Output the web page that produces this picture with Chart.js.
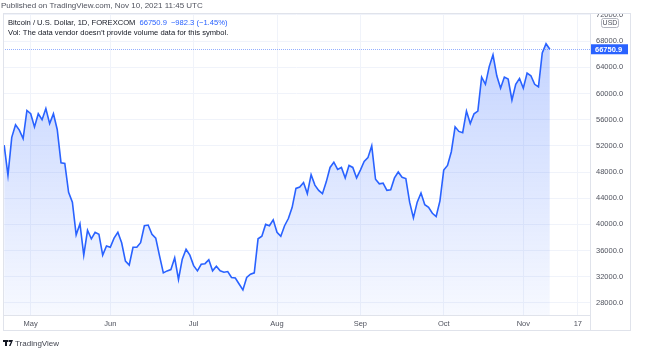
<!DOCTYPE html>
<html>
<head>
<meta charset="utf-8">
<script src="https://cdn.jsdelivr.net/npm/chart.js@4.4.1/dist/chart.umd.min.js"></script>
<style>
  html, body { margin: 0; padding: 0; background: #ffffff; }
  #wrap { position: relative; width: 650px; height: 359px; }
</style>
</head>
<body>
<div id="wrap"><canvas id="c" width="650" height="359"></canvas></div>
<script>
// Daily (weekday) closes, first bar = Apr 22 2021, last bar = Nov 10 2021
const closes = [
  52100, 47500, 53300, 55200, 54400, 53100, 57400,
  56900, 54900, 56900, 56000, 57700, 55400, 56900, 54500, 49400, 49300,
  44900, 43400, 38400, 40100, 35300, 39100, 37800, 38800, 38500, 35300, 36700,
  36500, 37900, 38800, 37200, 34400, 33800, 36500, 36500, 37200, 39800, 39900,
  38500, 37900, 35200, 32600, 32900, 33100, 34900, 31600, 34700, 36200, 35300,
  33700, 32900, 33900, 34000, 34600, 32900, 33600, 32900, 32700, 32800, 31900,
  31800, 30900, 30000, 31900, 32400, 32600, 37800, 38200, 40000, 39800, 40700,
  38800, 38200, 39800, 40900, 42600, 45500, 45700, 46400, 44700, 47600, 46000,
  45200, 44700, 46500, 48700, 49500, 48400, 48700, 47100, 49000, 48700, 47100,
  48300, 49600, 50200, 52000, 46900, 46200, 46300, 45200, 45300, 47100, 48000,
  47200, 47000, 43400, 41000, 43400, 44800, 43000, 42600, 41700, 41200, 43600,
  48300, 49000, 51100, 54900, 54200, 54000, 57300, 55400, 56900, 57300, 62500,
  61400, 64100, 65900, 62700, 60800, 62500, 62200, 59000, 61400, 62300,
  60800, 63100, 62700, 61400, 61000, 66200, 67600, 66750.9
];
// Time axis labels and the bar positions where they sit
const timeTickLabels = ['May', 'Jun', 'Jul', 'Aug', 'Sep', 'Oct', 'Nov', '17'];
const timeTickBars = [7, 28, 50, 72, 94, 116, 137, 151.4];
// Price axis ticks
const priceTicks = [28000, 32000, 36000, 40000, 44000, 48000, 52000, 56000, 60000, 64000, 68000, 72000];
// Header values
const lastPrice = 66750.9;
const priceChange = -982.3;
const priceChangePct = -1.45;

const FONT = '"Liberation Sans", Arial, sans-serif';
const TEXT = '#131722';
const AXIS_TEXT = '#50535e';
const BLUE = '#2962ff';
const FRAME = '#e0e3eb';
const GRID = '#f0f3fa';

const overlay = {
  id: 'overlay',
  beforeDatasetsDraw(chart) {
    const { ctx, chartArea, scales } = chart;
    const y = Math.round(scales.y.getPixelForValue(lastPrice)) + 0.5;
    ctx.save();
    ctx.strokeStyle = 'rgba(41,98,255,0.5)';
    ctx.lineWidth = 1;
    ctx.setLineDash([1, 1]);
    ctx.beginPath();
    ctx.moveTo(chartArea.left, y);
    ctx.lineTo(chartArea.right, y);
    ctx.stroke();
    ctx.restore();
  },
  afterDraw(chart) {
    const { ctx, chartArea, scales } = chart;
    ctx.save();
    // clip the top price label against the frame
    ctx.fillStyle = '#ffffff';
    ctx.fillRect(chartArea.right + 1, 0, 650 - chartArea.right, chartArea.top);
    // frame
    ctx.strokeStyle = FRAME;
    ctx.lineWidth = 1;
    ctx.strokeRect(chartArea.left + 0.5, chartArea.top + 0.5, 631 - chartArea.left - 1, 331 - chartArea.top - 1);
    ctx.beginPath();
    ctx.moveTo(chartArea.right + 0.5, chartArea.top);
    ctx.lineTo(chartArea.right + 0.5, 331);
    ctx.stroke();

    // USD badge
    ctx.fillStyle = '#ffffff';
    ctx.strokeStyle = '#b2b5be';
    ctx.beginPath();
    ctx.roundRect(601.5, 18.5, 17, 9, 2);
    ctx.fill();
    ctx.stroke();
    ctx.fillStyle = AXIS_TEXT;
    ctx.font = '7px ' + FONT;
    ctx.textAlign = 'center';
    ctx.textBaseline = 'middle';
    ctx.fillText('USD', 610, 23.3);

    // last price badge
    const py = scales.y.getPixelForValue(lastPrice);
    ctx.fillStyle = BLUE;
    ctx.fillRect(chartArea.right + 1, py - 5, 37, 10);
    ctx.fillStyle = '#ffffff';
    ctx.font = 'bold 7.5px ' + FONT;
    ctx.textAlign = 'left';
    ctx.fillText(lastPrice.toFixed(1), chartArea.right + 5, py + 0.3);

    // title
    ctx.fillStyle = '#50535e';
    ctx.font = '8px ' + FONT;
    ctx.textBaseline = 'middle';
    ctx.fillText('Published on TradingView.com, Nov 10, 2021 11:45 UTC', 1, 6);

    // legend lines
    ctx.font = '7.6px ' + FONT;
    ctx.fillStyle = TEXT;
    const t1 = 'Bitcoin / U.S. Dollar, 1D, FOREXCOM';
    ctx.fillText(t1, 8, 22.5);
    let x = 8 + ctx.measureText(t1).width + 4;
    ctx.fillStyle = BLUE;
    const t2 = lastPrice.toFixed(1);
    ctx.fillText(t2, x, 22.5);
    x += ctx.measureText(t2).width + 4;
    const t3 = '\u2212' + Math.abs(priceChange).toFixed(1) + ' (\u2212' + Math.abs(priceChangePct).toFixed(2) + '%)';
    ctx.fillText(t3, x, 22.5);
    ctx.fillStyle = TEXT;
    ctx.fillText('Vol: The data vendor doesn\u2019t provide volume data for this symbol.', 8, 33);

    // TradingView logo mark + name
    ctx.fillStyle = '#131722';
    ctx.fillRect(3, 340, 5, 2);
    ctx.fillRect(5, 340, 2, 6);
    ctx.beginPath();
    ctx.moveTo(8.5, 340); ctx.lineTo(13, 340); ctx.lineTo(10.5, 346); ctx.lineTo(9, 346); ctx.lineTo(10.8, 342);
    ctx.lineTo(8.5, 342); ctx.closePath();
    ctx.fill();
    ctx.font = '8px ' + FONT;
    ctx.fillStyle = '#434651';
    ctx.textAlign = 'left';
    ctx.fillText('TradingView', 15, 343.5);
    ctx.restore();
  }
};

new Chart(document.getElementById('c'), {
  type: 'line',
  data: {
    datasets: [{
      data: closes.map((v, i) => ({ x: i, y: v })),
      borderColor: BLUE,
      borderWidth: 1.6,
      pointRadius: 0,
      tension: 0,
      fill: 'start',
      backgroundColor(context) {
        const { ctx, chartArea } = context.chart;
        if (!chartArea) return 'rgba(41,98,255,0.15)';
        const g = ctx.createLinearGradient(0, chartArea.top, 0, chartArea.bottom);
        g.addColorStop(0, 'rgba(41,98,255,0.30)');
        g.addColorStop(1, 'rgba(41,98,255,0.04)');
        return g;
      }
    }]
  },
  options: {
    responsive: false,
    devicePixelRatio: 1,
    animation: false,
    layout: { padding: { left: 3, top: 13, right: 19, bottom: 28 } },
    plugins: { legend: { display: false }, tooltip: { enabled: false } },
    scales: {
      x: {
        type: 'linear',
        min: -0.31,
        max: 154.6,
        afterBuildTicks(scale) { scale.ticks = timeTickBars.map(v => ({ value: v })); },
        afterFit(scale) { scale.height = 16; },
        grid: { color: GRID, drawTicks: false },
        border: { color: FRAME },
        ticks: {
          autoSkip: false,
          maxRotation: 0,
          padding: 4,
          color: AXIS_TEXT,
          font: { family: FONT, size: 7.5 },
          callback(value, index) { return timeTickLabels[index]; }
        }
      },
      y: {
        position: 'right',
        min: 26161,
        max: 72290,
        afterBuildTicks(scale) { scale.ticks = priceTicks.map(v => ({ value: v })); },
        afterFit(scale) { scale.width = 41; },
        grid: { color: GRID, drawTicks: false },
        border: { color: FRAME },
        ticks: {
          padding: 6,
          color: AXIS_TEXT,
          font: { family: FONT, size: 7.5 },
          callback(value) { return Number(value).toFixed(1); }
        }
      }
    }
  },
  plugins: [overlay]
});
</script>
</body>
</html>
